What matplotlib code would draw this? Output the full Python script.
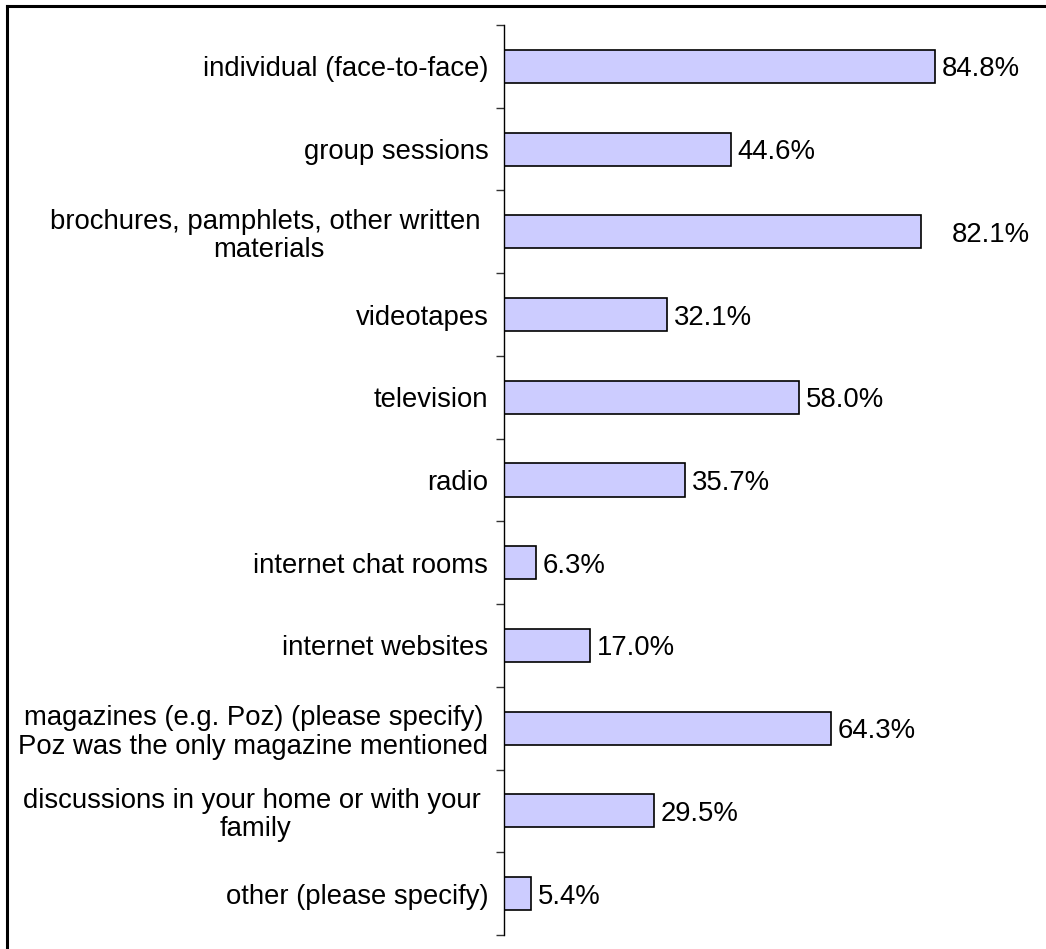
import matplotlib
matplotlib.use('Agg')
import matplotlib.pyplot as plt
from matplotlib.lines import Line2D

# ==========================================================
# Data
# ==========================================================
categories = [
    'individual (face-to-face)',
    'group sessions',
    'brochures, pamphlets, other written \nmaterials',
    'videotapes',
    'television',
    'radio',
    'internet chat rooms',
    'internet websites',
    'magazines (e.g. Poz) (please specify)\nPoz was the only magazine mentioned',
    'discussions in your home or with your \nfamily',
    'other (please specify)',
]
values = [84.8, 44.6, 82.1, 32.1, 58.0, 35.7, 6.3, 17.0, 64.3, 29.5, 5.4]
value_labels = ['84.8%', '44.6%', '82.1%', '32.1%', '58.0%', '35.7%',
                '6.3%', '17.0%', '64.3%', '29.5%', '5.4%']

plt.rcParams['font.family'] = ['Liberation Sans', 'DejaVu Sans']
FS = 19.8

fig = plt.figure(figsize=(10.46, 9.49), dpi=100)
ax = fig.add_axes([0.4815, 0.0148, 0.4865, 0.9589])

ypos = list(range(len(categories)))
ax.barh(ypos, values, height=0.4, color='#CCCCFF', edgecolor='black', linewidth=1.2)

# value labels (the 82.1% one sits further out in the original)
offsets = [1.3, 1.3, 6.0, 1.3, 1.3, 1.3, 1.3, 1.3, 1.3, 1.3, 1.3]
for y, v, lab, off in zip(ypos, values, value_labels, offsets):
    ax.text(v + off, y, lab, ha='left', va='center_baseline', fontsize=FS)

ax.set_xlim(0, 100)
ax.set_ylim(len(categories) - 0.5, -0.5)

# category labels, ticks between categories
ax.set_yticks(ypos)
ax.set_yticklabels(categories, fontsize=FS, linespacing=1.12)
for lbl in ax.get_yticklabels():
    lbl.set_multialignment('center')
ax.tick_params(axis='y', which='major', length=0, pad=11)
ax.set_yticks([y - 0.5 for y in range(len(categories) + 1)], minor=True)
ax.tick_params(axis='y', which='minor', length=6, width=1.0, color='#333333', direction='out')

ax.set_xticks([])
for side in ['top', 'right', 'bottom']:
    ax.spines[side].set_visible(False)
ax.spines['left'].set_linewidth(1.0)

# outer frame (only top and left visible in the crop)
fig.add_artist(Line2D([0.0067, 1.0], [0.9937, 0.9937], transform=fig.transFigure,
                      color='black', linewidth=2.2))
fig.add_artist(Line2D([0.0067, 0.0067], [0.0, 0.9937], transform=fig.transFigure,
                      color='black', linewidth=2.2))

fig.savefig('out.png', dpi=100)
